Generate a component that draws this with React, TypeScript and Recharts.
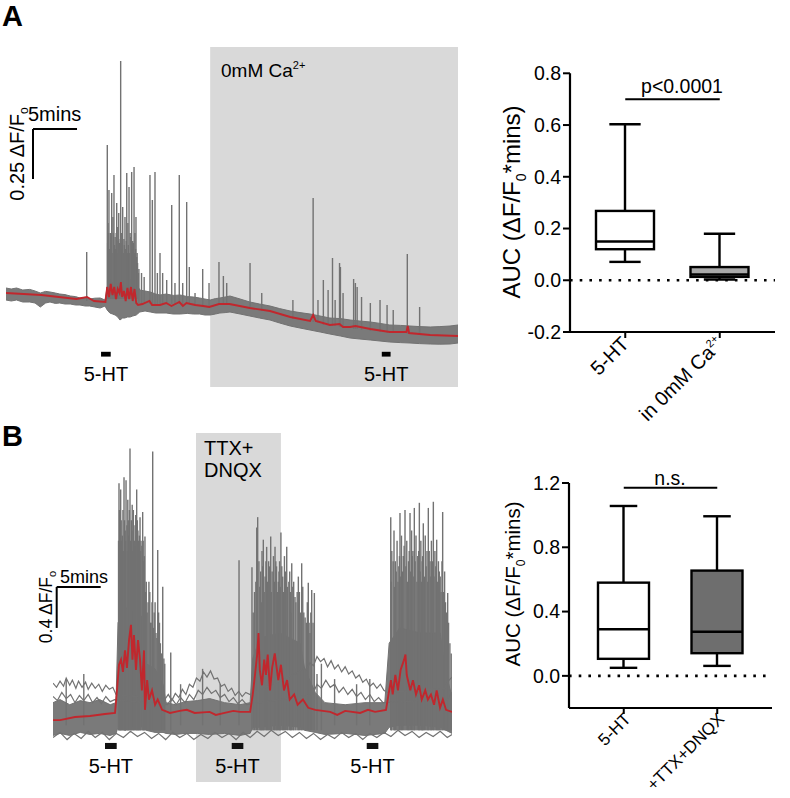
import React from 'react';
import {
  ComposedChart, Area, Line, Bar, XAxis, YAxis, ReferenceArea, ReferenceLine,
} from 'recharts';

const FONT = "'Liberation Sans', Arial, Helvetica, sans-serif";

// ---------------- Panel A traces (time in min, value in dF/F0) ----------------
const aBand: [number, number, number][] = [
  [0, -0.035, 0.025], [0.6, -0.04, 0.02], [1.2, -0.035, 0.025], [1.9, -0.045, 0.015], [2.7, -0.045, 0.018],
  [3.3, -0.05, 0.01], [3.9, -0.07, 0.0], [4.5, -0.05, 0.008], [5.0, -0.045, 0.005], [5.6, -0.052, 0.0],
  [6.1, -0.05, -0.005], [6.7, -0.055, -0.008], [7.3, -0.055, -0.015], [7.9, -0.06, -0.018], [8.4, -0.06, -0.025],
  [9.0, -0.065, -0.022], [9.5, -0.065, -0.03], [10.1, -0.07, -0.026], [10.7, -0.075, -0.025], [11.25, -0.065, -0.035],
  [11.5, -0.085, 0.03], [11.8, -0.1, 0.07], [12.1, -0.105, 0.05], [12.4, -0.11, 0.065], [12.7, -0.12, 0.045],
  [12.95, -0.135, 0.075], [13.25, -0.125, 0.05], [13.5, -0.125, 0.065], [13.8, -0.12, 0.045], [14.1, -0.12, 0.07],
  [14.4, -0.115, 0.04], [14.8, -0.11, 0.05], [15.2, -0.095, 0.015], [15.8, -0.09, 0.01], [16.4, -0.095, 0.005],
  [17.0, -0.1, -0.005], [17.5, -0.1, -0.01], [18.2, -0.1, -0.005], [19.0, -0.105, -0.012], [19.8, -0.105, -0.01],
  [20.6, -0.102, -0.018], [21.3, -0.105, -0.02], [22.0, -0.105, -0.025], [22.6, -0.11, -0.03], [23.2, -0.11, -0.035],
  [23.8, -0.105, -0.028], [24.3, -0.1, -0.025], [24.9, -0.098, -0.02], [25.45, -0.095, -0.015], [26.6, -0.105, -0.03],
  [27.7, -0.115, -0.045], [28.8, -0.125, -0.055], [30.0, -0.135, -0.065], [31.1, -0.15, -0.078], [32.3, -0.165, -0.09],
  [33.4, -0.175, -0.098], [34.55, -0.185, -0.105], [35.7, -0.195, -0.115], [36.8, -0.205, -0.125], [38.0, -0.215, -0.128],
  [39.1, -0.225, -0.135], [40.2, -0.23, -0.14], [41.4, -0.235, -0.145], [42.5, -0.24, -0.152], [43.6, -0.245, -0.16],
  [44.8, -0.248, -0.162], [45.9, -0.25, -0.165], [47.0, -0.253, -0.168], [48.2, -0.255, -0.17], [49.3, -0.256, -0.168],
  [50.45, -0.255, -0.165], [51.36, -0.25, -0.16],
];

const aMean: [number, number][] = [
  [0, 0], [2, -0.005], [4, -0.01], [6, -0.02], [8, -0.03], [9.2, -0.02], [10, -0.04], [11.3, -0.045],
  [11.5, 0.03], [11.7, -0.02], [11.9, 0.045], [12.1, -0.01], [12.3, 0.03], [12.5, -0.03], [12.7, 0.02], [12.9, 0.0],
  [13.05, 0.055], [13.2, -0.02], [13.4, 0.01], [13.6, -0.04], [13.8, 0.025], [14.0, -0.03], [14.2, 0.03], [14.4, -0.04],
  [14.6, 0.02], [14.8, -0.05], [15.0, -0.06], [15.5, -0.055], [16.3, -0.04], [16.6, -0.06], [17.5, -0.06], [18.2, -0.05],
  [18.8, -0.065], [19.7, -0.045], [20.1, -0.065], [20.5, -0.05], [21.5, -0.06], [22.4, -0.065], [23.1, -0.07], [24.2, -0.055],
  [25.4, -0.055], [27.7, -0.075], [30, -0.09], [32.3, -0.12], [34.55, -0.14], [34.9, -0.11], [35.2, -0.14], [36.8, -0.16],
  [37.9, -0.155], [38.3, -0.17], [39.1, -0.17], [39.7, -0.165], [41.4, -0.18], [43.6, -0.195], [45.5, -0.195], [45.65, -0.165],
  [45.8, -0.2], [48.2, -0.21], [51.36, -0.215],
];

// [time, base, peak]
const aSpikes: [number, number, number][] = [
  [9.17, -0.04, 0.205],
  [11.51, -0.03, 0.74], [11.55, -0.03, 0.25], [11.6, -0.03, 0.35], [11.65, -0.03, 0.3], [11.7, -0.03, 0.515],
  [11.75, -0.03, 0.22], [11.85, -0.03, 0.3], [11.95, -0.03, 0.28], [12.01, -0.03, 0.5], [12.05, -0.03, 0.2],
  [12.15, -0.03, 0.38], [12.2, -0.03, 0.3], [12.27, -0.03, 0.59], [12.33, -0.03, 0.24], [12.4, -0.03, 0.28],
  [12.45, -0.03, 0.22], [12.52, -0.03, 0.3], [12.58, -0.03, 0.45], [12.63, -0.03, 0.2], [12.7, -0.03, 0.33],
  [12.75, -0.03, 0.26], [12.81, -0.03, 0.4], [12.85, -0.03, 0.2], [12.9, -0.03, 0.25], [12.98, -0.03, 0.27],
  [13.03, -0.03, 1.16], [13.1, -0.03, 0.22], [13.15, -0.03, 0.3], [13.2, -0.03, 0.25], [13.26, -0.03, 0.43],
  [13.32, -0.03, 0.2], [13.4, -0.03, 0.27], [13.45, -0.03, 0.24], [13.52, -0.03, 0.38], [13.57, -0.03, 0.2],
  [13.6, -0.03, 0.22], [13.67, -0.03, 0.26], [13.72, -0.03, 0.6], [13.78, -0.03, 0.2], [13.85, -0.03, 0.35],
  [13.9, -0.03, 0.24], [13.98, -0.03, 0.53], [14.05, -0.03, 0.2], [14.1, -0.03, 0.3], [14.18, -0.03, 0.28],
  [14.28, -0.03, 0.605], [14.33, -0.03, 0.22], [14.4, -0.03, 0.26], [14.47, -0.03, 0.25], [14.55, -0.03, 0.63],
  [14.6, -0.03, 0.2], [14.65, -0.03, 0.3], [14.72, -0.03, 0.22], [14.77, -0.03, 0.38], [14.85, -0.03, 0.18],
  [14.9, -0.03, 0.2], [14.95, -0.03, 0.15], [15.05, -0.04, 0.1], [15.1, -0.05, 0.12], [15.4, -0.05, 0.1], [15.7, -0.05, 0.08],
  [16.36, -0.055, 0.59], [16.63, -0.055, 0.465], [16.93, -0.055, 0.605], [17.2, -0.055, 0.1], [17.5, -0.055, 0.2],
  [17.8, -0.055, 0.1], [18.26, -0.055, 0.065], [18.83, -0.055, 0.44], [19.2, -0.055, 0.05], [19.69, -0.055, 0.59],
  [20.08, -0.055, 0.05], [20.53, -0.055, 0.455], [20.83, -0.055, 0.13], [21.48, -0.06, 0.0], [22.35, -0.06, 0.12],
  [23.07, -0.065, 0.05], [24.2, -0.06, 0.155], [24.7, -0.06, 0.085], [25.08, -0.06, 0.05], [27.73, -0.08, 0.15],
  [29.06, -0.09, 0.0], [32.6, -0.13, -0.035], [34.9, -0.145, 0.475], [35.45, -0.15, -0.035], [36.06, -0.16, 0.065],
  [36.6, -0.16, 0.015], [37.1, -0.165, 0.175], [37.4, -0.165, -0.035], [37.9, -0.17, 0.15], [38.0, -0.17, 0.13],
  [38.3, -0.17, 0.0], [39.5, -0.18, 0.07], [39.7, -0.18, 0.05], [39.9, -0.18, 0.03], [40.4, -0.185, -0.02],
  [41.4, -0.19, -0.05], [42.5, -0.195, -0.035], [43.3, -0.2, -0.06], [44.0, -0.2, -0.085], [45.6, -0.205, 0.195],
  [47.0, -0.21, -0.07],
];

const aStim: [number, number][] = [[10.8, 11.9], [42.7, 43.7]];
const aCalciumFree: [number, number] = [23.2, 51.36];

// ---------------- Panel B traces ----------------
const bBand: [number, number, number][] = [
  [0, -0.2, 0.12], [0.8, -0.18, 0.15], [1.9, -0.2, 0.1], [3.1, -0.17, 0.14], [4.2, -0.19, 0.12], [5.3, -0.18, 0.15],
  [6.5, -0.2, 0.1], [7.16, -0.18, 0.12], [7.39, -0.12, 0.9], [8.2, -0.15, 1.05], [9.3, -0.1, 1.0], [10.3, -0.12, 0.95],
  [10.6, -0.15, 0.5], [11.6, -0.17, 0.45], [12.5, -0.17, 0.3], [12.85, -0.18, 0.12], [13.9, -0.19, 0.1], [15.0, -0.18, 0.13],
  [16.4, -0.18, 0.14], [17.8, -0.19, 0.16], [19.5, -0.18, 0.12], [21.25, -0.2, 0.1], [22.4, -0.18, 0.12], [22.7, -0.12, 0.55],
  [23.5, -0.12, 0.75], [25.8, -0.1, 0.8], [28.1, -0.12, 0.7], [28.6, -0.15, 0.45], [29.8, -0.17, 0.22], [30.9, -0.19, 0.12],
  [33.2, -0.18, 0.1], [35.45, -0.2, 0.12], [37.7, -0.18, 0.12], [38.2, -0.12, 0.7], [39.4, -0.1, 0.85], [41.7, -0.1, 0.8],
  [44.0, -0.12, 0.8], [44.66, -0.15, 0.4], [45.34, -0.18, 0.18],
];

const bTraceHigh: [number, number][] = [
  [0, 0.31], [0.4, 0.27], [0.8, 0.33], [1.2, 0.28], [1.5, 0.36], [1.9, 0.29], [2.2, 0.34], [2.6, 0.26], [2.9, 0.33],
  [3.3, 0.27], [3.7, 0.32], [4.0, 0.25], [4.4, 0.31], [4.8, 0.26], [5.2, 0.3], [5.6, 0.23], [6.0, 0.29], [6.4, 0.25],
  [6.8, 0.27], [7.16, 0.2],
  [12.7, 0.15], [13.1, 0.2], [13.5, 0.14], [13.9, 0.21], [14.3, 0.17], [14.7, 0.25], [15.1, 0.2], [15.5, 0.3], [15.9, 0.27],
  [16.3, 0.36], [16.7, 0.33], [17.1, 0.42], [17.5, 0.37], [17.9, 0.43], [18.3, 0.35], [18.7, 0.36], [19.1, 0.28],
  [19.5, 0.3], [19.9, 0.23], [20.3, 0.26], [20.7, 0.19], [21.1, 0.23], [21.5, 0.18], [21.9, 0.22], [22.4, 0.2],
  [28.0, 0.42], [28.4, 0.46], [28.8, 0.44], [29.2, 0.51], [29.6, 0.48], [30.0, 0.57], [30.4, 0.52], [30.8, 0.55],
  [31.2, 0.47], [31.6, 0.53], [32.0, 0.45], [32.4, 0.49], [32.8, 0.42], [33.2, 0.47], [33.6, 0.4], [34.0, 0.43],
  [34.4, 0.36], [34.8, 0.39], [35.2, 0.32], [35.6, 0.35], [36.0, 0.28], [36.4, 0.31], [36.8, 0.26], [37.2, 0.3],
  [37.6, 0.24], [38.0, 0.22],
  [44.5, 0.26], [44.9, 0.33], [45.34, 0.37],
];

const bTraceMid: [number, number][] = [
  [0, 0.18], [0.5, 0.14], [1.0, 0.22], [1.5, 0.16], [2.0, 0.2], [2.5, 0.12], [3.0, 0.19], [3.5, 0.14], [4.0, 0.2],
  [4.5, 0.12], [5.0, 0.17], [5.5, 0.11], [6.0, 0.18], [6.5, 0.13], [7.0, 0.15],
  [13.0, 0.1], [13.5, 0.16], [14.0, 0.1], [14.5, 0.17], [15.0, 0.12], [15.5, 0.2], [16.0, 0.15], [16.5, 0.24],
  [17.0, 0.2], [17.5, 0.27], [18.0, 0.21], [18.5, 0.24], [19.0, 0.17], [19.5, 0.2], [20.0, 0.13], [20.5, 0.17],
  [21.0, 0.11], [21.5, 0.15], [22.0, 0.1],
  [29.5, 0.2], [30.0, 0.3], [30.5, 0.26], [31.0, 0.34], [31.5, 0.27], [32.0, 0.3], [32.5, 0.22], [33.0, 0.27],
  [33.5, 0.2], [34.0, 0.25], [34.5, 0.18], [35.0, 0.22], [35.5, 0.15], [36.0, 0.2], [36.5, 0.13], [37.0, 0.17], [37.5, 0.12],
  [44.8, 0.15], [45.34, 0.22],
];

const bTraceLow: [number, number][] = [
  [0, -0.22], [0.8, -0.17], [1.6, -0.24], [2.4, -0.18], [3.2, -0.23], [4.0, -0.16], [4.8, -0.22], [5.6, -0.17],
  [6.4, -0.24], [7.2, -0.18], [8.0, -0.22], [8.8, -0.16], [9.6, -0.21], [10.4, -0.17], [11.2, -0.23], [12.0, -0.18],
  [12.8, -0.24], [13.6, -0.17], [14.4, -0.22], [15.2, -0.18], [16.0, -0.24], [16.8, -0.19], [17.6, -0.23], [18.4, -0.17],
  [19.2, -0.22], [20.0, -0.18], [20.8, -0.24], [21.6, -0.17], [22.4, -0.22], [23.2, -0.16], [24.0, -0.21], [24.8, -0.15],
  [25.6, -0.2], [26.4, -0.16], [27.2, -0.22], [28.0, -0.17], [28.8, -0.23], [29.6, -0.18], [30.4, -0.24], [31.2, -0.19],
  [32.0, -0.23], [32.8, -0.17], [33.6, -0.22], [34.4, -0.18], [35.2, -0.24], [36.0, -0.18], [36.8, -0.22], [37.6, -0.17],
  [38.4, -0.21], [39.2, -0.15], [40.0, -0.2], [40.8, -0.16], [41.6, -0.22], [42.4, -0.17], [43.2, -0.21], [44.0, -0.16],
  [44.8, -0.22], [45.34, -0.19],
];

const bMean: [number, number][] = [
  [0, -0.05], [0.8, -0.05], [2.5, -0.02], [4.2, -0.01], [5.9, 0.01], [7.05, 0.02], [7.27, 0.24], [7.5, 0.49], [7.73, 0.54],
  [7.95, 0.42], [8.18, 0.63], [8.4, 0.46], [8.64, 0.73], [8.86, 0.88], [9.03, 0.54], [9.2, 0.78], [9.43, 0.44], [9.66, 0.73],
  [9.89, 0.54], [10.1, 0.24], [10.34, 0.63], [10.45, 0.05], [10.7, 0.34], [10.9, 0.15], [11.25, 0.24], [11.6, 0.1],
  [11.9, 0.15], [12.4, 0.05], [13.3, 0.02], [14.4, 0.04], [15.2, 0.05], [16.1, 0.02], [17.8, 0.03], [18.5, 0.0], [19.5, 0.02],
  [20.5, 0.04], [21.25, 0.03], [22.4, 0.03], [22.7, 0.2], [22.95, 0.39], [23.2, 0.59], [23.35, 0.8], [23.5, 0.44],
  [23.75, 0.29], [24.0, 0.54], [24.2, 0.39], [24.4, 0.59], [24.66, 0.24], [24.9, 0.46], [25.2, 0.6], [25.6, 0.34],
  [25.9, 0.49], [26.25, 0.24], [26.6, 0.34], [26.9, 0.15], [27.4, 0.2], [27.8, 0.1], [28.4, 0.15], [29.0, 0.07],
  [29.8, 0.05], [31.5, 0.03], [32.3, 0.0], [33.2, 0.04], [34.9, 0.02], [35.8, 0.05], [36.6, 0.03], [37.84, 0.05],
  [38.2, 0.24], [38.4, 0.34], [38.6, 0.2], [38.9, 0.39], [39.2, 0.24], [39.5, 0.44], [39.9, 0.54], [40.05, 0.59],
  [40.2, 0.39], [40.6, 0.24], [40.9, 0.34], [41.25, 0.2], [41.6, 0.29], [41.9, 0.15], [42.3, 0.24], [42.6, 0.15],
  [42.95, 0.2], [43.3, 0.1], [43.6, 0.24], [43.98, 0.07], [44.3, 0.15], [44.66, 0.05], [45.34, 0.03],
];

// [time, base, peak]
const bSpikes: [number, number, number][] = [
  [1.5, -0.1, 0.35], [3.5, -0.1, 0.4],
  // burst 1
  [7.45, -0.15, 1.7], [7.5, -0.15, 2.26], [7.55, -0.15, 2.0], [7.6, -0.15, 1.9], [7.65, -0.15, 1.6], [7.69, -0.15, 2.2],
  [7.75, -0.15, 1.9], [7.8, -0.15, 1.7], [7.88, -0.15, 1.75], [7.95, -0.15, 2.0], [8.0, -0.15, 1.6], [8.07, -0.15, 2.32],
  [8.13, -0.15, 1.9], [8.2, -0.15, 1.8], [8.25, -0.15, 1.7], [8.3, -0.15, 2.29], [8.4, -0.15, 1.85], [8.45, -0.15, 1.6],
  [8.5, -0.15, 2.1], [8.55, -0.15, 1.9], [8.6, -0.15, 1.75], [8.68, -0.15, 2.0], [8.75, -0.15, 2.6], [8.82, -0.15, 1.7],
  [8.9, -0.15, 1.9], [8.95, -0.15, 1.8], [9.0, -0.15, 2.05], [9.07, -0.15, 1.6], [9.13, -0.15, 2.0], [9.2, -0.15, 1.85],
  [9.25, -0.15, 1.7], [9.33, -0.15, 1.65], [9.4, -0.15, 1.95], [9.45, -0.15, 1.75], [9.51, -0.15, 2.2], [9.58, -0.15, 1.9],
  [9.65, -0.15, 1.8], [9.7, -0.15, 1.7], [9.75, -0.15, 1.6], [9.82, -0.15, 1.75], [9.89, -0.15, 1.93], [9.95, -0.15, 1.6],
  [10.0, -0.15, 1.7], [10.1, -0.15, 1.65], [10.19, -0.15, 1.98], [10.25, -0.15, 1.7], [10.3, -0.15, 1.5], [10.38, -0.15, 1.55],
  [10.45, -0.15, 1.74], [10.52, -0.15, 1.2], [10.6, -0.15, 1.3], [10.7, -0.15, 1.0], [10.8, -0.15, 1.1], [10.9, -0.15, 1.3],
  [11.0, -0.15, 1.2], [11.08, -0.15, 0.9], [11.15, -0.15, 0.9], [11.25, -0.15, 1.1], [11.33, -0.15, 2.57], [11.42, -0.15, 0.85],
  [11.5, -0.15, 1.0], [11.6, -0.15, 1.1], [11.7, -0.15, 0.8], [11.8, -0.15, 0.75], [11.9, -0.15, 1.61], [12.0, -0.15, 1.0],
  [12.1, -0.15, 0.9], [12.2, -0.15, 0.7], [12.3, -0.15, 0.6], [12.4, -0.15, 0.6], [12.47, -0.15, 1.25], [12.6, -0.15, 0.55],
  [12.7, -0.15, 0.5], [13.38, -0.15, 0.61],
  [14.5, -0.1, 0.3], [17.0, -0.1, 0.45], [19.0, -0.1, 0.3], [21.14, -0.1, 1.51],
  // burst 2
  [22.61, -0.15, 1.44], [22.75, -0.15, 1.0], [22.9, -0.15, 1.2], [23.05, -0.15, 1.3], [23.15, -0.15, 1.83], [23.26, -0.15, 1.93],
  [23.4, -0.15, 1.5], [23.5, -0.15, 1.25], [23.6, -0.15, 1.4], [23.68, -0.15, 1.1], [23.75, -0.15, 1.6], [23.83, -0.15, 1.45],
  [23.9, -0.15, 1.71], [24.0, -0.15, 1.2], [24.1, -0.15, 1.35], [24.2, -0.15, 1.5], [24.28, -0.15, 1.64], [24.38, -0.15, 1.3],
  [24.5, -0.15, 1.5], [24.6, -0.15, 1.45], [24.74, -0.15, 1.74], [24.82, -0.15, 1.2], [24.9, -0.15, 1.4], [25.05, -0.15, 1.55],
  [25.15, -0.15, 1.3], [25.23, -0.15, 1.64], [25.32, -0.15, 1.5], [25.4, -0.15, 1.45], [25.5, -0.15, 1.2], [25.6, -0.15, 1.3],
  [25.68, -0.15, 1.4], [25.75, -0.15, 1.5], [25.83, -0.15, 1.25], [25.9, -0.15, 1.78], [26.0, -0.15, 1.45], [26.1, -0.15, 1.35],
  [26.2, -0.15, 1.2], [26.3, -0.15, 1.55], [26.4, -0.15, 1.4], [26.56, -0.15, 1.64], [26.65, -0.15, 1.25], [26.8, -0.15, 1.3],
  [26.9, -0.15, 1.4], [27.0, -0.15, 1.2], [27.05, -0.15, 1.0], [27.13, -0.15, 1.48], [27.25, -0.15, 1.25], [27.35, -0.15, 1.3],
  [27.5, -0.15, 1.15], [27.6, -0.15, 1.1], [27.75, -0.15, 1.2], [27.88, -0.15, 1.35], [28.0, -0.15, 1.2], [28.15, -0.15, 1.0],
  [28.26, -0.15, 1.48], [28.38, -0.15, 1.25], [28.5, -0.15, 1.0], [28.65, -0.15, 0.95], [28.8, -0.15, 0.9], [28.9, -0.15, 1.1],
  [29.01, -0.15, 1.29], [29.1, -0.15, 0.9], [29.2, -0.15, 0.8], [29.3, -0.15, 1.0], [29.4, -0.15, 1.22], [29.55, -0.15, 0.9],
  [29.7, -0.15, 1.19], [30.0, -0.15, 0.4], [30.5, -0.15, 0.5],
  [32.0, -0.1, 0.35], [34.5, -0.1, 0.3], [36.0, -0.1, 0.35],
  // burst 3
  [38.38, -0.15, 1.93], [38.45, -0.15, 1.3], [38.5, -0.15, 1.6], [38.65, -0.15, 1.5], [38.75, -0.15, 1.8], [38.82, -0.15, 1.25],
  [38.9, -0.15, 1.5], [39.0, -0.15, 1.4], [39.1, -0.15, 1.7], [39.2, -0.15, 1.3], [39.3, -0.15, 1.45], [39.37, -0.15, 1.55],
  [39.43, -0.15, 1.97], [39.52, -0.15, 1.35], [39.6, -0.15, 1.75], [39.7, -0.15, 1.4], [39.8, -0.15, 1.55], [39.9, -0.15, 1.65],
  [40.0, -0.15, 2.0], [40.1, -0.15, 1.45], [40.2, -0.15, 1.7], [40.3, -0.15, 1.3], [40.4, -0.15, 1.5], [40.48, -0.15, 1.6],
  [40.57, -0.15, 1.97], [40.65, -0.15, 1.4], [40.75, -0.15, 1.8], [40.82, -0.15, 1.55], [40.9, -0.15, 1.6], [41.0, -0.15, 1.35],
  [41.06, -0.15, 2.02], [41.15, -0.15, 1.5], [41.25, -0.15, 1.75], [41.35, -0.15, 1.3], [41.45, -0.15, 1.55], [41.55, -0.15, 1.6],
  [41.63, -0.15, 2.07], [41.72, -0.15, 1.4], [41.8, -0.15, 1.7], [41.88, -0.15, 1.3], [41.95, -0.15, 1.5], [42.0, -0.15, 1.55],
  [42.08, -0.15, 1.87], [42.2, -0.15, 1.35], [42.3, -0.15, 1.75], [42.4, -0.15, 1.45], [42.5, -0.15, 1.6], [42.58, -0.15, 1.3],
  [42.65, -0.15, 2.02], [42.75, -0.15, 1.6], [42.85, -0.15, 1.5], [42.93, -0.15, 1.35], [43.0, -0.15, 1.7], [43.1, -0.15, 1.5],
  [43.22, -0.15, 2.08], [43.3, -0.15, 1.35], [43.4, -0.15, 1.6], [43.5, -0.15, 1.45], [43.6, -0.15, 1.71], [43.7, -0.15, 1.3],
  [43.8, -0.15, 1.5], [43.9, -0.15, 1.4], [44.0, -0.15, 1.35], [44.1, -0.15, 1.2], [44.2, -0.15, 1.5], [44.28, -0.15, 1.98],
  [44.4, -0.15, 1.2], [44.5, -0.15, 1.4], [44.6, -0.15, 1.1], [44.7, -0.15, 1.0], [44.85, -0.15, 1.19], [44.95, -0.15, 0.9],
  [45.1, -0.15, 0.7], [45.25, -0.15, 0.6],
];

const bStim: [number, number][] = [[5.91, 7.24], [20.31, 21.63], [35.65, 36.97]];
const bDrug: [number, number] = [16.25, 25.9];

// ---------------- Box plots ----------------
const aBoxCats = ['5-HT', 'in 0mM Ca2+'];
const aBoxMin = [0.071, 0.003];
const aBoxQ1 = [0.12, 0.013];
const aBoxMed = [0.15, 0.022];
const aBoxQ3 = [0.268, 0.051];
const aBoxMax = [0.603, 0.18];
const aYTicks = [-0.2, 0, 0.2, 0.4, 0.6, 0.8];

const bBoxCats = ['5-HT', '+TTX+DNQX'];
const bBoxMin = [0.05, 0.062];
const bBoxQ1 = [0.106, 0.141];
const bBoxMed = [0.29, 0.274];
const bBoxQ3 = [0.58, 0.655];
const bBoxMax = [1.057, 0.993];
const bYTicks = [0, 0.4, 0.8, 1.2];

const aBoxFills = ['#ffffff', '#a9a9a9'];
const bBoxFills = ['#ffffff', '#6e6e6e'];

// ---------------- helpers ----------------
type Row = { t: number; [k: string]: any };

function buildTraceRows(
  band: [number, number, number][],
  mean: [number, number][],
  spikes: [number, number, number][],
  extras: Record<string, [number, number][]> = {},
): Row[] {
  const rows: Row[] = [];
  band.forEach(([t, lo, hi]) => rows.push({ t, band: [lo, hi] }));
  mean.forEach(([t, v]) => rows.push({ t, mean: v }));
  spikes.forEach(([t, b, p]) => rows.push({ t, spike: [b, p] }));
  Object.keys(extras).forEach((k) => extras[k].forEach(([t, v]) => rows.push({ t, [k]: v })));
  return rows.sort((a, b) => a.t - b.t);
}

function buildBoxRows(cats: string[], mn: number[], q1: number[], md: number[], q3: number[], mx: number[]) {
  return cats.map((name, i) => ({ name, min: mn[i], q1: q1[i], med: md[i], q3: q3[i], max: mx[i] }));
}

const aRows = buildTraceRows(aBand, aMean, aSpikes);
const bRows = buildTraceRows(bBand, bMean, bSpikes, { hiTrace: bTraceHigh, midTrace: bTraceMid, lowTrace: bTraceLow });
const aBoxRows = buildBoxRows(aBoxCats, aBoxMin, aBoxQ1, aBoxMed, aBoxQ3, aBoxMax);
const bBoxRows = buildBoxRows(bBoxCats, bBoxMin, bBoxQ1, bBoxMed, bBoxQ3, bBoxMax);

const GRAY_FILL = '#7a7a7a';
const GRAY_LINE = '#727272';
const RED = '#c1272d';
const SHADE = '#d9d9d9';

const SpikeShape = (p: any) => {
  const { x, y, width, height } = p;
  if (x == null || y == null || !height) return <g />;
  const cx = x + width / 2;
  const y1 = Math.min(y, y + height);
  const y2 = Math.max(y, y + height);
  return <line x1={cx} x2={cx} y1={y1} y2={y2} stroke={GRAY_LINE} strokeWidth={1.4} />;
};

function makeBoxShape(fills: string[]) {
  return (props: any) => {
    const { x, y, width, height, payload, index } = props;
    if (!payload) return <g />;
    const top = Math.min(y, y + height);
    const bot = Math.max(y, y + height);
    const span = payload.max - payload.min;
    const py = (v: number) => top + ((payload.max - v) / span) * (bot - top);
    const cx = x + width / 2;
    const capHalf = width * 0.27;
    const sw = 2.4;
    return (
      <g>
        <line x1={cx} x2={cx} y1={py(payload.max)} y2={py(payload.q3)} stroke="#000" strokeWidth={sw} />
        <line x1={cx} x2={cx} y1={py(payload.q1)} y2={py(payload.min)} stroke="#000" strokeWidth={sw} />
        <line x1={cx - capHalf} x2={cx + capHalf} y1={py(payload.max)} y2={py(payload.max)} stroke="#000" strokeWidth={sw} />
        <line x1={cx - capHalf} x2={cx + capHalf} y1={py(payload.min)} y2={py(payload.min)} stroke="#000" strokeWidth={sw} />
        <rect x={x} y={py(payload.q3)} width={width} height={py(payload.q1) - py(payload.q3)}
          fill={fills[index] || '#fff'} stroke="#000" strokeWidth={sw} />
        <line x1={x} x2={x + width} y1={py(payload.med)} y2={py(payload.med)} stroke="#000" strokeWidth={sw} />
      </g>
    );
  };
}

const RotTick = (props: any) => {
  const { x, y, payload, shiftX = 5, shiftY = 5, size = 20 } = props;
  const v: string = String(payload.value);
  const sup = v.endsWith('2+');
  const main = sup ? v.slice(0, -2) : v;
  return (
    <g transform={`translate(${x + shiftX},${y + shiftY})`}>
      <text textAnchor="end" transform="rotate(-45)" fontSize={size} fill="#000" fontFamily={FONT}>
        {main}
        {sup ? <tspan dy={-8} fontSize={11}>2+</tspan> : null}
      </text>
    </g>
  );
};

const fmt1 = (v: number) => v.toFixed(1);

function BoxChart(props: {
  rows: any[]; fills: string[]; domain: [number, number]; ticks: number[]; barSize: number;
  width: number; height: number; margin: any; sigY: number; tickShiftX: number; tickShiftY: number; tickSize: number;
}) {
  const { rows, fills, domain, ticks, barSize, width, height, margin, sigY } = props;
  const axisStyle = { stroke: '#000', strokeWidth: 2.2 };
  return (
    <ComposedChart width={width} height={height} data={rows} margin={margin}>
      <XAxis dataKey="name" type="category" axisLine={axisStyle} tickLine={{ stroke: '#000', strokeWidth: 2 }}
        tickSize={6} height={60} padding={{ left: 8, right: 8 }}
        tick={<RotTick shiftX={props.tickShiftX} shiftY={props.tickShiftY} size={props.tickSize} />} interval={0} />
      <YAxis type="number" domain={domain} ticks={ticks} tickFormatter={fmt1} axisLine={axisStyle}
        tickLine={{ stroke: '#000', strokeWidth: 2 }} tickSize={7} tickMargin={2} width={60}
        tick={{ fill: '#000', fontSize: 19.5, fontFamily: FONT }} interval={0} allowDataOverflow />
      <ReferenceLine y={0} stroke="#000" strokeWidth={2.6} strokeDasharray="2.6 7.1" />
      <Bar dataKey={(d: any) => [d.min, d.max]} barSize={barSize} shape={makeBoxShape(fills)} isAnimationActive={false} />
      <ReferenceLine segment={[{ x: rows[0].name, y: sigY }, { x: rows[1].name, y: sigY }]}
        stroke="#000" strokeWidth={2} />
    </ComposedChart>
  );
}

const stimLabel = (offset: number) => ({
  value: '5-HT', position: 'bottom' as const, offset, fontSize: 20, fill: '#000', fontFamily: FONT,
});

function TraceA() {
  return (
    <ComposedChart width={452} height={340} data={aRows} margin={{ top: 0, right: 0, bottom: 0, left: 0 }}>
      <XAxis type="number" dataKey="t" domain={[0, 51.36]} hide allowDataOverflow />
      <YAxis type="number" domain={[-0.47, 1.23]} hide allowDataOverflow />
      <ReferenceArea x1={aCalciumFree[0]} x2={aCalciumFree[1]} y1={-0.47} y2={1.23} fill={SHADE} fillOpacity={1} stroke="none" />
      <Area dataKey="band" type="linear" stroke={GRAY_LINE} strokeWidth={1} fill={GRAY_FILL} fillOpacity={1}
        connectNulls isAnimationActive={false} dot={false} activeDot={false} />
      <Bar dataKey="spike" barSize={1} shape={SpikeShape} isAnimationActive={false} />
      <Line dataKey="mean" type="linear" stroke={RED} strokeWidth={1.9} dot={false} activeDot={false}
        connectNulls isAnimationActive={false} />
      <ReferenceLine segment={[{ x: 3.07, y: 0.82 }, { x: 3.07, y: 0.57 }]} stroke="#000" strokeWidth={2} />
      <ReferenceLine segment={[{ x: 3.07, y: 0.82 }, { x: 8.07, y: 0.82 }]} stroke="#000" strokeWidth={2} />
      {aStim.map(([s, e], i) => (
        <ReferenceArea key={i} x1={s} x2={e} y1={-0.318} y2={-0.294} fill="#000" fillOpacity={1} stroke="none"
          label={stimLabel(10)} />
      ))}
    </ComposedChart>
  );
}

function TraceB() {
  return (
    <ComposedChart width={399} height={349} data={bRows} margin={{ top: 0, right: 0, bottom: 0, left: 0 }}>
      <XAxis type="number" dataKey="t" domain={[0, 45.34]} hide allowDataOverflow />
      <YAxis type="number" domain={[-0.654, 2.751]} hide allowDataOverflow />
      <ReferenceArea x1={bDrug[0]} x2={bDrug[1]} y1={-0.654} y2={2.751} fill={SHADE} fillOpacity={1} stroke="none" />
      <Area dataKey="band" type="linear" stroke={GRAY_LINE} strokeWidth={1} fill={GRAY_FILL} fillOpacity={1}
        connectNulls isAnimationActive={false} dot={false} activeDot={false} />
      <Bar dataKey="spike" barSize={1} shape={SpikeShape} isAnimationActive={false} />
      <Line dataKey="lowTrace" type="linear" stroke={GRAY_LINE} strokeWidth={1.2} dot={false} activeDot={false}
        connectNulls isAnimationActive={false} />
      <Line dataKey="hiTrace" type="linear" stroke={GRAY_LINE} strokeWidth={1.2} dot={false} activeDot={false}
        connectNulls isAnimationActive={false} />
      <Line dataKey="midTrace" type="linear" stroke={GRAY_LINE} strokeWidth={1.2} dot={false} activeDot={false}
        connectNulls isAnimationActive={false} />
      <Line dataKey="mean" type="linear" stroke={RED} strokeWidth={1.9} dot={false} activeDot={false}
        connectNulls isAnimationActive={false} />
      <ReferenceLine segment={[{ x: 0.42, y: 1.249 }, { x: 0.42, y: 0.849 }]} stroke="#000" strokeWidth={2} />
      <ReferenceLine segment={[{ x: 0.42, y: 1.249 }, { x: 5.42, y: 1.249 }]} stroke="#000" strokeWidth={2} />
      {bStim.map(([s, e], i) => (
        <ReferenceArea key={i} x1={s} x2={e} y1={-0.332} y2={-0.273} fill="#111" fillOpacity={1} stroke="none"
          label={stimLabel(9.5)} />
      ))}
    </ComposedChart>
  );
}

function Overlay() {
  const t = { fontFamily: FONT, fill: '#000' };
  return (
    <svg width={790} height={798} style={{ position: 'absolute', left: 0, top: 0, pointerEvents: 'none' }}>
      <text x={2} y={26} fontSize={29} fontWeight="bold" {...t}>A</text>
      <text x={2} y={446} fontSize={29} fontWeight="bold" {...t}>B</text>
      <text x={221} y={77} fontSize={19} {...t}>0mM Ca<tspan dy={-8} fontSize={11}>2+</tspan></text>
      <text x={28} y={121} fontSize={20} {...t}>5mins</text>
      <text transform="translate(24,154) rotate(-90)" textAnchor="middle" fontSize={20} {...t}>
        0.25 ΔF/F<tspan dy={4} fontSize={12}>o</tspan>
      </text>
      <text x={204} y={455} fontSize={20} {...t}>TTX+</text>
      <text x={204} y={477} fontSize={20} {...t}>DNQX</text>
      <text x={60} y={583} fontSize={18} {...t}>5mins</text>
      <text transform="translate(52,607) rotate(-90)" textAnchor="middle" fontSize={17.5} {...t}>
        0.4 ΔF/F<tspan dy={4} fontSize={11}>o</tspan>
      </text>
      <text transform="translate(520,202) rotate(-90)" textAnchor="middle" fontSize={24} {...t}>
        AUC (ΔF/F<tspan dy={6} fontSize={14}>0</tspan><tspan dy={-6}>*mins)</tspan>
      </text>
      <text x={682} y={93} textAnchor="middle" fontSize={19.5} {...t}>p&lt;0.0001</text>
      <text transform="translate(520,584) rotate(-90)" textAnchor="middle" fontSize={20.5} {...t}>
        AUC (ΔF/F<tspan dy={5} fontSize={12}>0</tspan><tspan dy={-5}>*mins)</tspan>
      </text>
      <text x={670} y={485} textAnchor="middle" fontSize={19.5} {...t}>n.s.</text>
    </svg>
  );
}

export default function App() {
  return (
    <div style={{ position: 'absolute', left: 0, top: 0, width: 790, height: 798, background: '#fff', fontFamily: FONT, overflow: 'hidden' }}>
      <div style={{ position: 'absolute', left: 6, top: 47 }}><TraceA /></div>
      <div style={{ position: 'absolute', left: 53, top: 433 }}><TraceB /></div>
      <div style={{ position: 'absolute', left: 480, top: 420 }}>
        <BoxChart rows={bBoxRows} fills={bBoxFills} domain={[-0.2, 1.2]} ticks={bYTicks} barSize={51}
          width={310} height={378} margin={{ top: 63, right: 18, bottom: 30, left: 29 }} sigY={1.17}
          tickShiftX={8} tickShiftY={4} tickSize={17} />
      </div>
      <div style={{ position: 'absolute', left: 480, top: 40 }}>
        <BoxChart rows={aBoxRows} fills={aBoxFills} domain={[-0.2, 0.8]} ticks={aYTicks} barSize={58}
          width={310} height={400} margin={{ top: 33.3, right: 15, bottom: 48, left: 30 }} sigY={0.7}
          tickShiftX={5} tickShiftY={5} tickSize={20} />
      </div>
      <Overlay />
    </div>
  );
}
